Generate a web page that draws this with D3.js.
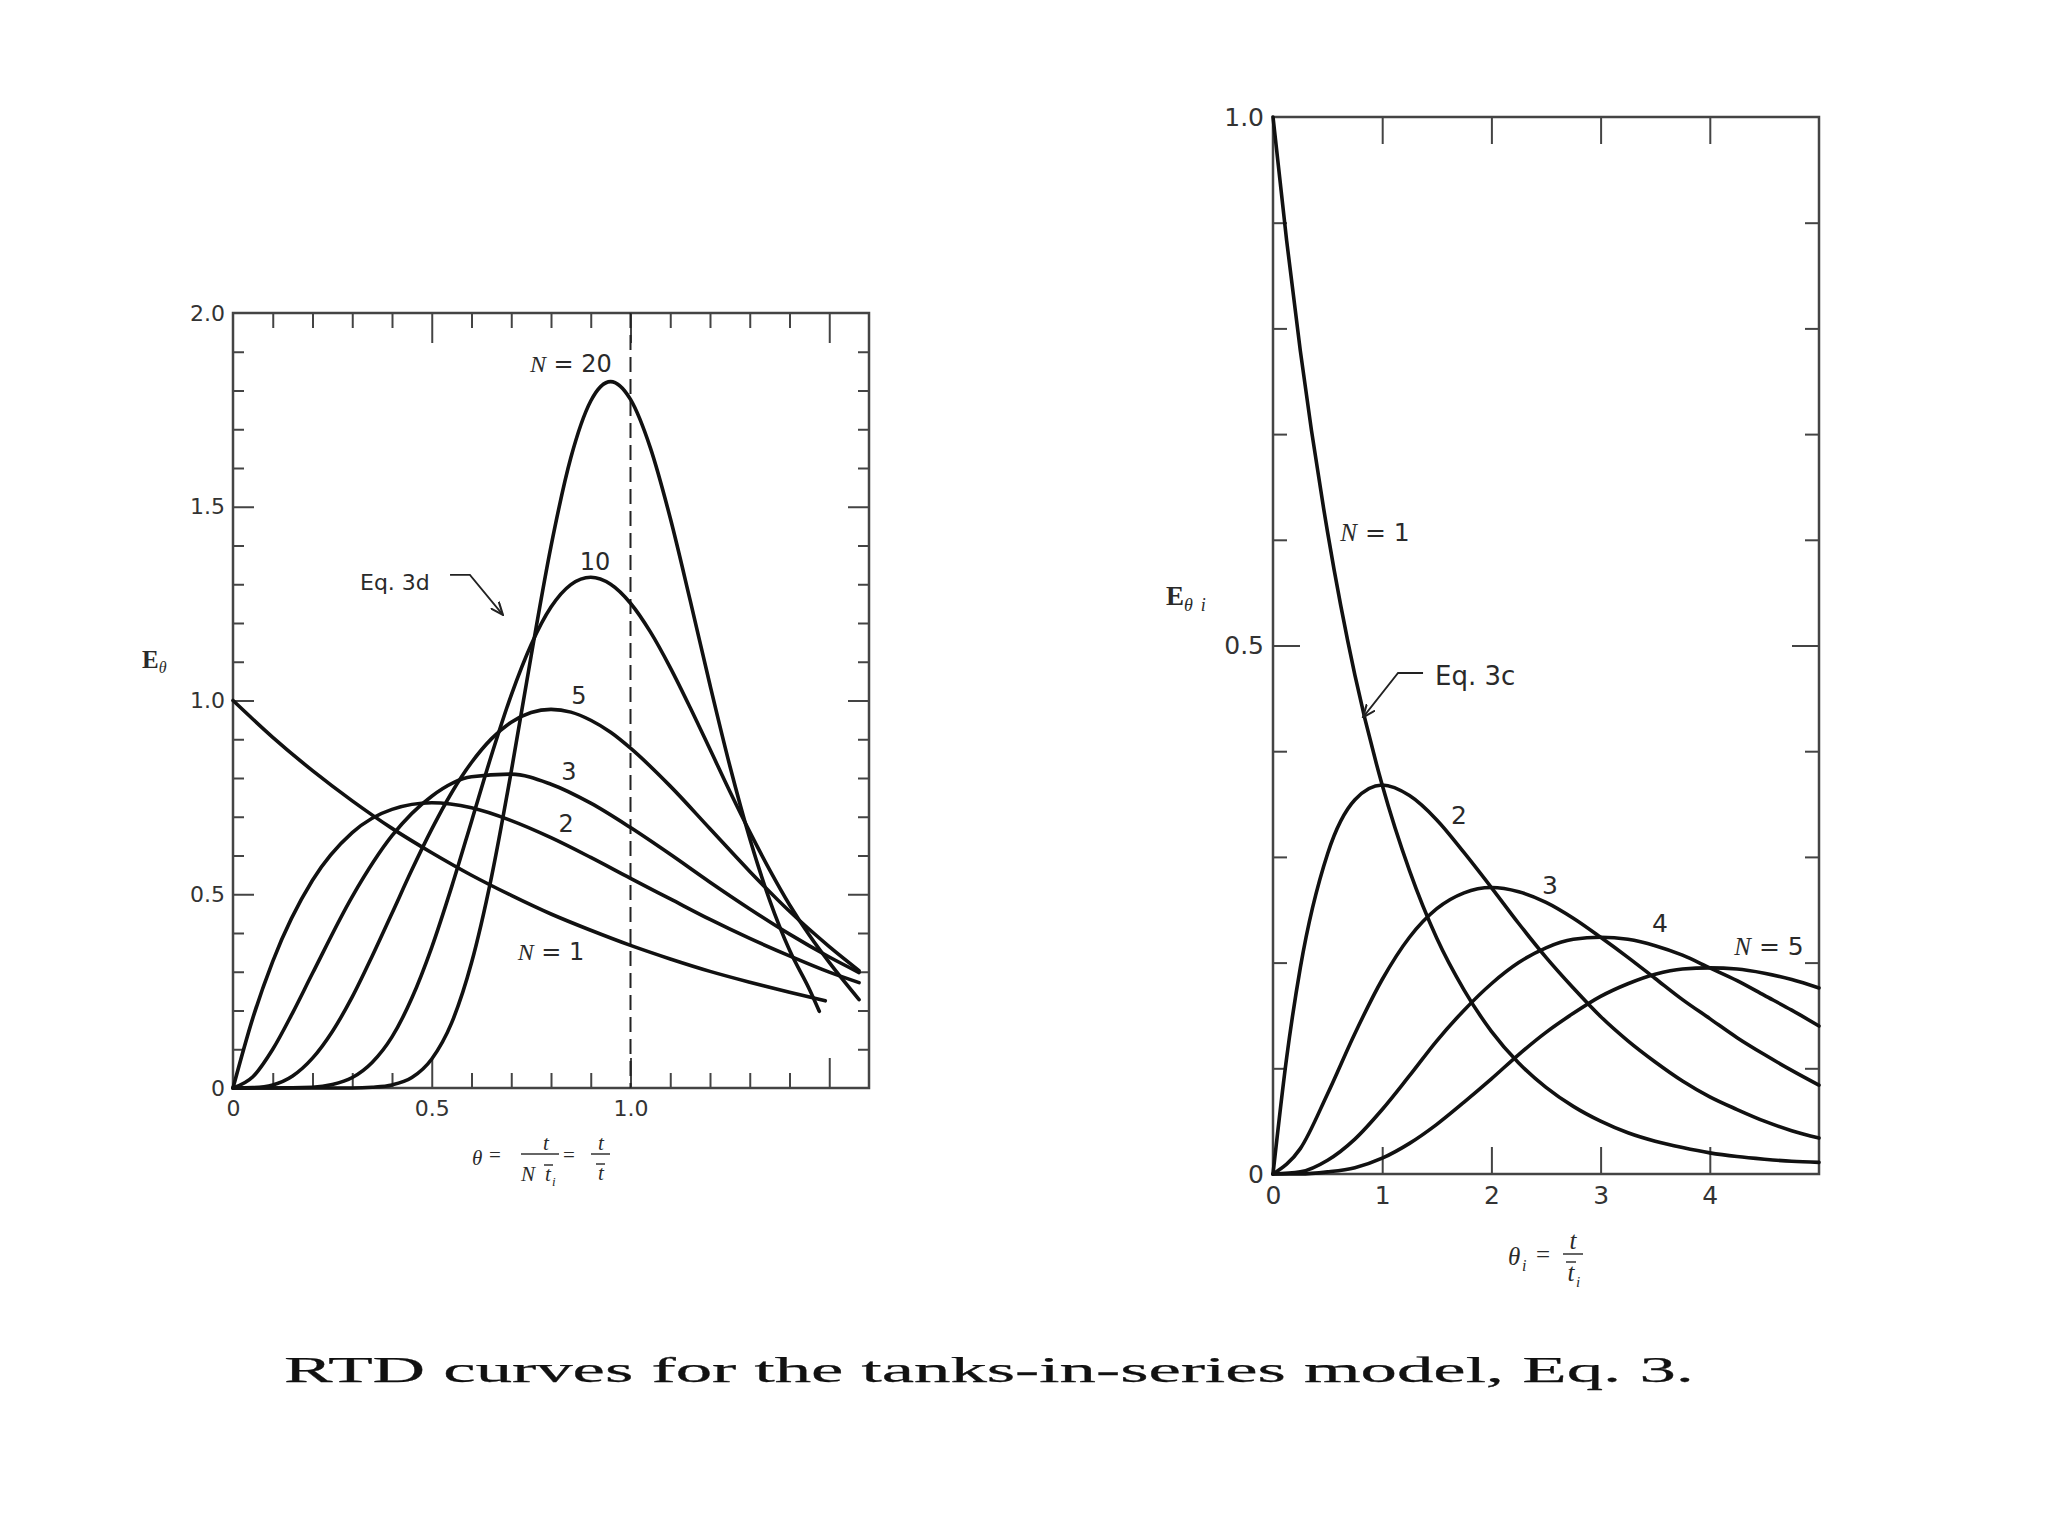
<!DOCTYPE html>
<html lang="en">
<head>
<meta charset="UTF-8">
<title>RTD curves, tanks-in-series</title>
<script src="https://cdn.jsdelivr.net/npm/d3@7"></script>
<style>
    body { margin: 0; background: #fff; }
    svg { display: block; }
    .curve { fill: none; stroke: #111; stroke-width: 3.6; stroke-linejoin: round; stroke-linecap: round; }
    .frame { fill: none; stroke: #444; stroke-width: 2.5; }
    .lbl { font-family: "DejaVu Sans", sans-serif; fill: #2a2a2a; }
    .it { font-family: "Liberation Serif", serif; font-style: italic; }
    .math { font-family: "Liberation Serif", serif; fill: #2a2a2a; }
</style>
</head>
<body>
<script>
    // ---- left panel: E_theta vs theta ----
    var leftN1 = [[0,1.000],[0.1,0.905],[0.2,0.819],[0.3,0.741],[0.4,0.670],[0.5,0.607],[0.6,0.549],[0.7,0.497],
        [0.8,0.449],[0.9,0.407],[1.0,0.368],[1.1,0.333],[1.2,0.301],[1.3,0.273],[1.4,0.247],[1.49,0.225]];
    var leftN2 = [[0,0],[0.05,0.181],[0.1,0.327],[0.2,0.536],[0.3,0.659],[0.4,0.719],[0.5,0.736],[0.6,0.723],
        [0.7,0.690],[0.8,0.646],[0.9,0.595],[1.0,0.541],[1.1,0.488],[1.2,0.435],[1.3,0.386],[1.4,0.341],
        [1.5,0.299],[1.575,0.272]];
    var leftN3 = [[0,0],[0.05,0.029],[0.1,0.100],[0.15,0.194],[0.2,0.296],[0.3,0.494],[0.4,0.651],[0.5,0.753],
        [0.6,0.803],[0.7,0.810],[0.8,0.784],[0.9,0.735],[1.0,0.672],[1.1,0.603],[1.2,0.531],[1.3,0.462],
        [1.4,0.397],[1.5,0.338],[1.575,0.298]];
    var leftN5 = [[0,0],[0.05,0.001],[0.1,0.008],[0.15,0.031],[0.2,0.077],[0.25,0.146],[0.3,0.235],[0.35,0.340],
        [0.4,0.451],[0.45,0.563],[0.5,0.668],[0.55,0.762],[0.6,0.840],[0.65,0.901],[0.7,0.944],[0.75,0.969],
        [0.8,0.977],[0.85,0.970],[0.9,0.949],[0.95,0.918],[1.0,0.877],[1.1,0.779],[1.2,0.669],[1.3,0.559],
        [1.4,0.456],[1.5,0.365],[1.575,0.303]];
    var leftN10 = [[0,0],[0.1,0.000],[0.2,0.002],[0.25,0.009],[0.3,0.027],[0.35,0.066],[0.4,0.132],[0.45,0.232],
        [0.5,0.363],[0.55,0.519],[0.6,0.688],[0.65,0.858],[0.7,1.014],[0.75,1.144],[0.8,1.241],[0.85,1.299],
        [0.9,1.318],[0.95,1.300],[1.0,1.251],[1.05,1.177],[1.1,1.085],[1.15,0.982],[1.2,0.874],[1.25,0.765],
        [1.3,0.661],[1.35,0.563],[1.4,0.473],[1.45,0.394],[1.5,0.324],[1.575,0.228]];
    var leftN20 = [[0,0],[0.2,0.000],[0.3,0.000],[0.35,0.002],[0.4,0.008],[0.45,0.027],[0.5,0.075],[0.55,0.168],
        [0.6,0.323],[0.65,0.543],[0.7,0.817],[0.75,1.115],[0.8,1.398],[0.85,1.627],[0.9,1.773],[0.95,1.823],
        [1.0,1.777],[1.05,1.652],[1.1,1.471],[1.15,1.259],[1.2,1.040],[1.25,0.831],[1.3,0.644],[1.35,0.485],
        [1.4,0.356],[1.45,0.255],[1.475,0.198]];

    // ---- right panel: E_theta_i vs theta_i ----
    var rightN1 = [[0,1.000],[0.125,0.883],[0.25,0.779],[0.5,0.607],[0.75,0.472],[1,0.368],[1.25,0.287],[1.5,0.223],
        [1.75,0.174],[2,0.135],[2.25,0.105],[2.5,0.082],[2.75,0.064],[3,0.050],[3.25,0.039],[3.5,0.031],
        [3.75,0.025],[4,0.020],[4.25,0.0165],[4.5,0.014],[4.75,0.012],[5,0.011]];
    var rightN2 = [[0,0],[0.125,0.110],[0.25,0.195],[0.5,0.303],[0.75,0.354],[1,0.368],[1.25,0.358],[1.5,0.335],
        [1.75,0.304],[2,0.271],[2.25,0.237],[2.5,0.205],[2.75,0.176],[3,0.149],[3.25,0.126],[3.5,0.106],
        [3.75,0.088],[4,0.073],[4.25,0.061],[4.5,0.050],[4.75,0.041],[5,0.034]];
    var rightN3 = [[0,0],[0.25,0.024],[0.5,0.076],[0.75,0.133],[1,0.184],[1.25,0.224],[1.5,0.251],[1.75,0.266],
        [2,0.271],[2.25,0.267],[2.5,0.257],[2.75,0.242],[3,0.224],[3.25,0.205],[3.5,0.185],[3.75,0.165],
        [4,0.147],[4.25,0.129],[4.5,0.113],[4.75,0.098],[5,0.084]];
    var rightN4 = [[0,0],[0.25,0.002],[0.5,0.013],[0.75,0.033],[1,0.061],[1.25,0.093],[1.5,0.126],[1.75,0.155],
        [2,0.180],[2.25,0.200],[2.5,0.214],[2.75,0.222],[3,0.224],[3.25,0.222],[3.5,0.216],[3.75,0.207],
        [4,0.195],[4.25,0.183],[4.5,0.169],[4.75,0.155],[5,0.140]];
    var rightN5 = [[0,0],[0.25,0.000],[0.5,0.002],[0.75,0.006],[1,0.015],[1.25,0.029],[1.5,0.047],[1.75,0.068],
        [2,0.090],[2.25,0.113],[2.5,0.134],[2.75,0.152],[3,0.168],[3.25,0.180],[3.5,0.189],[3.75,0.194],
        [4,0.195],[4.25,0.194],[4.5,0.190],[4.75,0.184],[5,0.176]];

    var leftSeries = [leftN1, leftN2, leftN3, leftN5, leftN10, leftN20];
    var rightSeries = [rightN1, rightN2, rightN3, rightN4, rightN5];

    // tick labels
    var leftXLabels = [0, 0.5, 1.0];
    var leftYLabels = [0, 0.5, 1.0, 1.5, 2.0];
    var rightXLabels = [0, 1, 2, 3, 4];
    var rightYLabels = [0, 0.5, 1.0];

    // curve labels: [theta, E, italic part, rest]
    var leftCurveLabels = [[0.850,1.848,"N"," = 20"],[0.911,1.337,"","10"],[0.870,0.991,"","5"],
        [0.845,0.795,"","3"],[0.838,0.661,"","2"],[0.800,0.330,"N"," = 1"]];
    var rightCurveLabels = [[0.934,0.599,"N"," = 1"],[1.703,0.331,"","2"],[2.537,0.265,"","3"],
        [3.544,0.229,"","4"],[4.542,0.207,"N"," = 5"]];

    var fmt = function (d) { return d === 0 ? "0" : d.toFixed(1); };
    var fmtInt = function (d) { return String(d); };

    var svg = d3.select("body").append("svg")
            .attr("width", 2048)
            .attr("height", 1536);
    svg.append("rect").attr("width", 2048).attr("height", 1536).attr("fill", "#fff");

    svg.append("defs").append("marker")
            .attr("id", "arrow")
            .attr("viewBox", "0 0 12 10")
            .attr("refX", 11).attr("refY", 5)
            .attr("markerWidth", 14).attr("markerHeight", 12)
            .attr("markerUnits", "userSpaceOnUse")
            .attr("orient", "auto")
            .append("path")
            .attr("d", "M0,0.5 L11,5 L0,9.5")
            .attr("fill", "none").attr("stroke", "#222").attr("stroke-width", 1.8);

    var xL = d3.scaleLinear().domain([0, 1.6]).range([233, 869]);
    var yL = d3.scaleLinear().domain([0, 2.0]).range([1088, 313]);
    var xR = d3.scaleLinear().domain([0, 5]).range([1273, 1819]);
    var yR = d3.scaleLinear().domain([0, 1.0]).range([1174, 117]);

    function ticks(axisFn, scale, values, size, tx, ty) {
        svg.append("g")
                .attr("transform", "translate(" + tx + "," + ty + ")")
                .call(axisFn(scale).tickValues(values).tickSize(-size).tickFormat(""))
                .call(function (g) { g.select(".domain").remove(); })
                .selectAll(".tick line")
                .attr("stroke", "#444")
                .attr("stroke-width", 2);
    }

    function labels(axisFn, scale, values, pad, size, format, tx, ty) {
        svg.append("g")
                .attr("transform", "translate(" + tx + "," + ty + ")")
                .call(axisFn(scale).tickValues(values).tickSize(0).tickPadding(pad).tickFormat(format))
                .attr("font-family", "DejaVu Sans, sans-serif")
                .attr("font-size", size)
                .call(function (g) { g.select(".domain").remove(); })
                .selectAll("text").attr("fill", "#333");
    }

    function curves(series, x, y) {
        var line = d3.line()
                .x(function (d) { return x(d[0]); })
                .y(function (d) { return y(d[1]); })
                .curve(d3.curveMonotoneX);
        svg.append("g").selectAll("path")
                .data(series)
                .enter().append("path")
                .attr("class", "curve")
                .attr("d", line);
    }

    function curveLabels(list, x, y, size) {
        var t = svg.append("g").selectAll("text")
                .data(list)
                .enter().append("text")
                .attr("class", "lbl")
                .attr("font-size", size)
                .attr("text-anchor", "middle")
                .attr("x", function (d) { return x(d[0]); })
                .attr("y", function (d) { return y(d[1]); });
        t.append("tspan").attr("class", "it").text(function (d) { return d[2]; });
        t.append("tspan").text(function (d) { return d[3]; });
    }

    // ---------- left panel ----------
    var lxMinor = d3.range(1, 16).filter(function (i) { return i % 5; }).map(function (i) { return i / 10; });
    var lyMinor = d3.range(1, 20).filter(function (i) { return i % 5; }).map(function (i) { return i / 10; });
    var lMajor = [0.5, 1.0, 1.5];

    ticks(d3.axisBottom, xL, lxMinor, 15, 0, yL(0));
    ticks(d3.axisBottom, xL, lMajor, 30, 0, yL(0));
    ticks(d3.axisTop, xL, lxMinor, 15, 0, yL(2));
    ticks(d3.axisTop, xL, lMajor, 30, 0, yL(2));
    ticks(d3.axisLeft, yL, lyMinor, 11, xL(0), 0);
    ticks(d3.axisLeft, yL, lMajor, 21, xL(0), 0);
    ticks(d3.axisRight, yL, lyMinor, 11, xL(1.6), 0);
    ticks(d3.axisRight, yL, lMajor, 21, xL(1.6), 0);

    svg.append("rect").attr("class", "frame")
            .attr("x", xL(0)).attr("y", yL(2))
            .attr("width", xL(1.6) - xL(0)).attr("height", yL(0) - yL(2));

    svg.append("line")
            .attr("x1", xL(1)).attr("x2", xL(1))
            .attr("y1", yL(2)).attr("y2", yL(0))
            .attr("stroke", "#222").attr("stroke-width", 2)
            .attr("stroke-dasharray", "15,7");

    labels(d3.axisBottom, xL, leftXLabels, 12, 22, fmt, 0, yL(0));
    labels(d3.axisLeft, yL, leftYLabels, 8, 22, fmt, xL(0), 0);

    curves(leftSeries, xL, yL);
    curveLabels(leftCurveLabels, xL, yL, 24);

    // Eq. 3d callout
    svg.append("text").attr("class", "lbl").attr("font-size", 22)
            .attr("x", xL(0.3195)).attr("y", yL(1.285)).text("Eq. 3d");
    svg.append("path")
            .attr("d", d3.line().x(function (d) { return xL(d[0]); }).y(function (d) { return yL(d[1]); })
                    ([[0.546, 1.324], [0.596, 1.324], [0.679, 1.221]]))
            .attr("fill", "none").attr("stroke", "#222").attr("stroke-width", 1.8)
            .attr("marker-end", "url(#arrow)");

    // axis titles, left
    var eL = svg.append("text").attr("class", "math").attr("x", 142).attr("y", 668);
    eL.append("tspan").attr("font-weight", "bold").attr("font-size", 25).text("E");
    eL.append("tspan").attr("class", "it").attr("font-size", 16).attr("dy", 5).text("θ");

    var mL = svg.append("g").attr("class", "math").attr("font-size", 21);
    mL.append("text").attr("class", "it").attr("x", 472).attr("y", 1165).text("θ");
    mL.append("text").attr("x", 489).attr("y", 1162).text("=");
    mL.append("line").attr("x1", 521).attr("x2", 559).attr("y1", 1154).attr("y2", 1154).attr("stroke", "#333").attr("stroke-width", 1.5);
    mL.append("text").attr("class", "it").attr("x", 546).attr("y", 1150).attr("text-anchor", "middle").text("t");
    mL.append("text").attr("class", "it").attr("x", 521).attr("y", 1181).text("N");
    mL.append("text").attr("class", "it").attr("x", 545).attr("y", 1181).text("t");
    mL.append("line").attr("x1", 544).attr("x2", 553).attr("y1", 1165).attr("y2", 1165).attr("stroke", "#333").attr("stroke-width", 1.5);
    mL.append("text").attr("class", "it").attr("font-size", 13).attr("x", 552).attr("y", 1186).text("i");
    mL.append("text").attr("x", 563).attr("y", 1162).text("=");
    mL.append("line").attr("x1", 591).attr("x2", 610).attr("y1", 1154).attr("y2", 1154).attr("stroke", "#333").attr("stroke-width", 1.5);
    mL.append("text").attr("class", "it").attr("x", 601).attr("y", 1150).attr("text-anchor", "middle").text("t");
    mL.append("text").attr("class", "it").attr("x", 601).attr("y", 1180).attr("text-anchor", "middle").text("t");
    mL.append("line").attr("x1", 596).attr("x2", 605).attr("y1", 1164).attr("y2", 1164).attr("stroke", "#333").attr("stroke-width", 1.5);

    // ---------- right panel ----------
    var ryMinor = [0.1, 0.2, 0.3, 0.4, 0.6, 0.7, 0.8, 0.9];
    var rxTicks = [1, 2, 3, 4];

    ticks(d3.axisBottom, xR, rxTicks, 27, 0, yR(0));
    ticks(d3.axisTop, xR, rxTicks, 27, 0, yR(1));
    ticks(d3.axisLeft, yR, ryMinor, 14, xR(0), 0);
    ticks(d3.axisLeft, yR, [0.5], 27, xR(0), 0);
    ticks(d3.axisRight, yR, ryMinor, 14, xR(5), 0);
    ticks(d3.axisRight, yR, [0.5], 27, xR(5), 0);

    svg.append("rect").attr("class", "frame")
            .attr("x", xR(0)).attr("y", yR(1))
            .attr("width", xR(5) - xR(0)).attr("height", yR(0) - yR(1));

    labels(d3.axisBottom, xR, rightXLabels, 12, 25, fmtInt, 0, yR(0));
    labels(d3.axisLeft, yR, rightYLabels, 9, 25, fmt, xR(0), 0);

    curves(rightSeries, xR, yR);
    curveLabels(rightCurveLabels, xR, yR, 25);

    // Eq. 3c callout
    svg.append("text").attr("class", "lbl").attr("font-size", 26)
            .attr("x", xR(1.484)).attr("y", yR(0.4626)).text("Eq. 3c");
    svg.append("path")
            .attr("d", d3.line().x(function (d) { return xR(d[0]); }).y(function (d) { return yR(d[1]); })
                    ([[1.374, 0.474], [1.145, 0.474], [0.824, 0.432]]))
            .attr("fill", "none").attr("stroke", "#222").attr("stroke-width", 1.8)
            .attr("marker-end", "url(#arrow)");

    // axis titles, right
    var eR = svg.append("text").attr("class", "math").attr("x", 1166).attr("y", 605);
    eR.append("tspan").attr("font-weight", "bold").attr("font-size", 27).text("E");
    eR.append("tspan").attr("class", "it").attr("font-size", 18).attr("dy", 6).text("θ");
    eR.append("tspan").attr("class", "it").attr("font-size", 18).attr("dx", 8).text("i");

    var mR = svg.append("g").attr("class", "math").attr("font-size", 25);
    mR.append("text").attr("class", "it").attr("x", 1508).attr("y", 1265).text("θ");
    mR.append("text").attr("class", "it").attr("font-size", 16).attr("x", 1522).attr("y", 1271).text("i");
    mR.append("text").attr("x", 1536).attr("y", 1263).text("=");
    mR.append("line").attr("x1", 1563).attr("x2", 1583).attr("y1", 1254).attr("y2", 1254).attr("stroke", "#333").attr("stroke-width", 1.5);
    mR.append("text").attr("class", "it").attr("x", 1573).attr("y", 1249).attr("text-anchor", "middle").text("t");
    mR.append("text").attr("class", "it").attr("x", 1571).attr("y", 1281).attr("text-anchor", "middle").text("t");
    mR.append("line").attr("x1", 1566).attr("x2", 1576).attr("y1", 1262).attr("y2", 1262).attr("stroke", "#333").attr("stroke-width", 1.5);
    mR.append("text").attr("class", "it").attr("font-size", 15).attr("x", 1576).attr("y", 1287).text("i");

    // caption
    svg.append("text")
            .attr("x", 284).attr("y", 1382)
            .attr("font-family", "Liberation Serif, serif")
            .attr("font-size", 35)
            .attr("fill", "#111")
            .attr("stroke", "#111")
            .attr("stroke-width", 0.25)
            .attr("textLength", 1410)
            .attr("lengthAdjust", "spacingAndGlyphs")
            .text("RTD curves for the tanks-in-series model, Eq. 3.");
</script>
</body>
</html>
